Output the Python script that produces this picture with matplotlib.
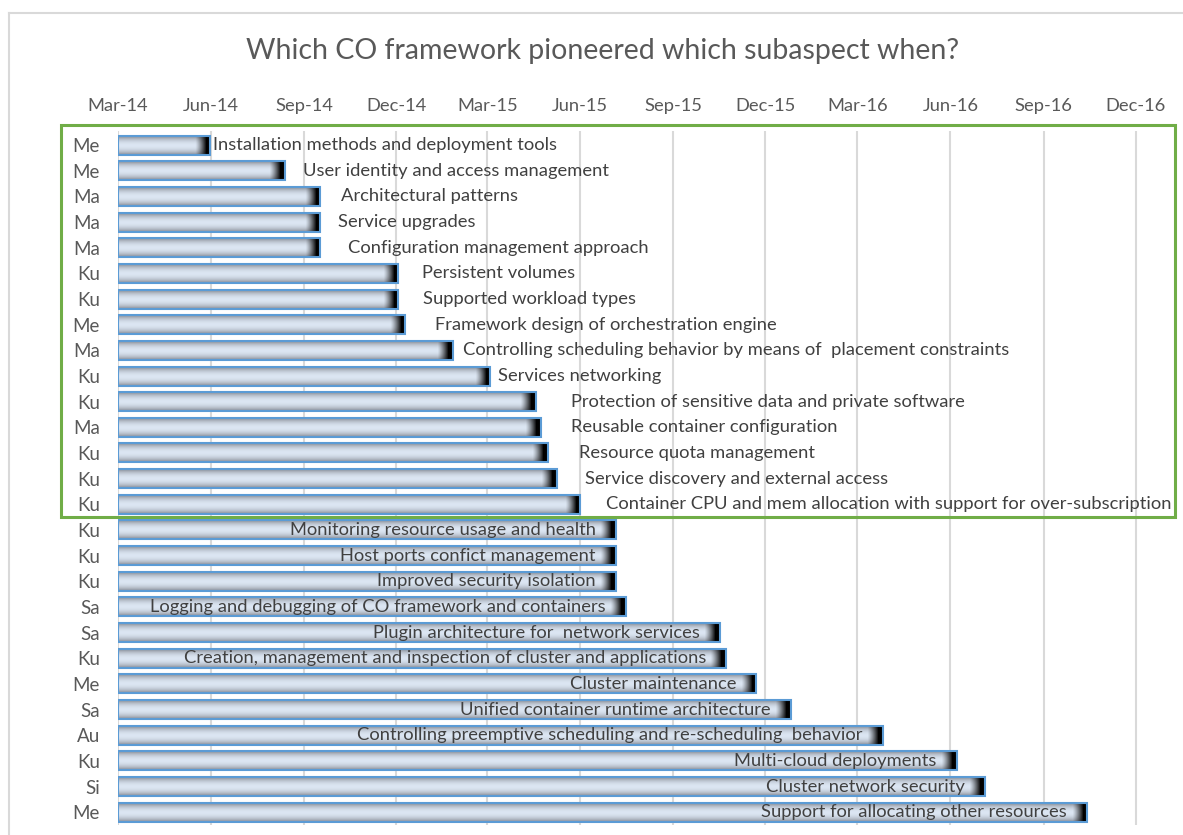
import matplotlib
matplotlib.use("Agg")
import matplotlib.pyplot as plt
import matplotlib.dates as mdates
from matplotlib.patches import Rectangle
from matplotlib.lines import Line2D
import numpy as np
import datetime as dt

# ---------------- data ----------------
frameworks = ["Me", "Me", "Ma", "Ma", "Ma", "Ku", "Ku", "Me", "Ma", "Ku", "Ku", "Ma", "Ku", "Ku",
              "Ku", "Ku", "Ku", "Ku", "Sa", "Sa", "Ku", "Me", "Sa", "Au", "Ku", "Si", "Me"]

subaspects = [
    "Installation methods and deployment tools",
    "User identity and access management",
    "Architectural patterns",
    "Service upgrades",
    "Configuration management approach",
    "Persistent volumes",
    "Supported workload types",
    "Framework design of orchestration engine",
    "Controlling scheduling behavior by means of  placement constraints",
    "Services networking",
    "Protection of sensitive data and private software",
    "Reusable container configuration",
    "Resource quota management",
    "Service discovery and external access",
    "Container CPU and mem allocation with support for over-subscription",
    "Monitoring resource usage and health",
    "Host ports confict management",
    "Improved security isolation",
    "Logging and debugging of CO framework and containers",
    "Plugin architecture for  network services",
    "Creation, management and inspection of cluster and applications",
    "Cluster maintenance",
    "Unified container runtime architecture",
    "Controlling preemptive scheduling and re-scheduling  behavior",
    "Multi-cloud deployments",
    "Cluster network security",
    "Support for allocating other resources",
]

start_date = "2014-03-01"
pioneer_dates = [
    "2014-05-31", "2014-08-13", "2014-09-17", "2014-09-17", "2014-09-17",
    "2014-12-03", "2014-12-03", "2014-12-10", "2015-01-26", "2015-03-04",
    "2015-04-18", "2015-04-23", "2015-04-30", "2015-05-09", "2015-06-01",
    "2015-07-06", "2015-07-06", "2015-07-06", "2015-07-16", "2015-10-17",
    "2015-10-23", "2015-11-22", "2015-12-26", "2016-03-26", "2016-06-07",
    "2016-07-05", "2016-10-14",
]

title = "Which CO framework pioneered which subaspect when?"

# ---------------- layout / style ----------------
W_PX, H_PX = 1183, 835
n_highlight = 15                      # rows inside the green box, labels outside bars
label_offset_px = [3, 18, 21, 18, 28, 24, 25, 30, 10, 8, 35, 30, 31, 28, 26]
inside_pad_px = 20
x_max = "2017-01-09"
FONT = ["Lato", "DejaVu Sans"]
LABEL_SIZE = 13.2

plt.rcParams["font.family"] = FONT

fig = plt.figure(figsize=(W_PX / 100, H_PX / 100), dpi=100)
ax_left, ax_right, ax_top, ax_bottom = 118, 1175, 131, 825
ax = fig.add_axes([ax_left / W_PX, 1 - ax_bottom / H_PX,
                   (ax_right - ax_left) / W_PX, (ax_bottom - ax_top) / H_PX])

x0 = mdates.date2num(dt.date.fromisoformat(start_date))
x1 = mdates.date2num(dt.date.fromisoformat(x_max))
px_per_day = (ax_right - ax_left) / (x1 - x0)
ends = [mdates.date2num(dt.date.fromisoformat(d)) for d in pioneer_dates]

bar_h = 0.74
light = np.array([0.86, 0.90, 0.95])
gray = np.array([0.55, 0.57, 0.61])


def bar_image(width_px, height_px=19):
    yy = np.linspace(-1, 1, height_px)
    t = np.abs(yy) ** 2.0
    col = light[None, :] * (1 - t[:, None]) + gray[None, :] * t[:, None]
    xx = np.arange(width_px)
    cap = 16.0
    d = np.clip((xx - (width_px - cap)) / (cap - 5), 0, 1) ** 1.3
    return col[:, None, :] * (1 - d)[None, :, None]


for i, e in enumerate(ends):
    wpx = max(int(round((e - x0) * px_per_day)), 4)
    ax.imshow(bar_image(wpx), extent=[x0, e, i + bar_h / 2, i - bar_h / 2],
              aspect="auto", interpolation="bilinear", zorder=2)
    ax.add_patch(Rectangle((x0, i - bar_h / 2), e - x0, bar_h, fill=False,
                           edgecolor="#5b9bd5", lw=1.5, zorder=3))
    if i < n_highlight:
        ax.annotate(subaspects[i], xy=(e, i), xytext=(label_offset_px[i] * 0.72, 0),
                    textcoords="offset points", ha="left", va="center",
                    fontsize=LABEL_SIZE, color="#404040", zorder=4)
    else:
        ax.annotate(subaspects[i], xy=(e, i), xytext=(-inside_pad_px * 0.72, 0),
                    textcoords="offset points", ha="right", va="center",
                    fontsize=LABEL_SIZE, color="#404040", zorder=4)

ax.set_xlim(x0, x1)
ax.set_ylim(len(ends) - 0.5, -0.55)
ax.set_yticks(range(len(frameworks)))
ax.set_yticklabels(frameworks)
ax.xaxis.tick_top()
ax.xaxis.set_major_locator(mdates.MonthLocator(bymonth=(3, 6, 9, 12)))
ax.xaxis.set_major_formatter(mdates.DateFormatter("%b-%y"))
ax.tick_params(axis="x", length=0, pad=12, labelsize=13.2, labelcolor="#595959")
ax.tick_params(axis="y", length=0, pad=13, labelsize=13.5, labelcolor="#595959")
ax.grid(axis="x", color="#d9d9d9", lw=1.5)
ax.set_axisbelow(True)
for s in ax.spines.values():
    s.set_visible(False)

fig.text(603 / W_PX, 1 - 51 / H_PX, title, ha="center", va="center",
         fontsize=20.5, color="#595959")

# chart-area frame (left and top visible)
fig.add_artist(Line2D([9 / W_PX, 9 / W_PX], [0, 1 - 13 / H_PX], color="#d9d9d9", lw=1.5))
fig.add_artist(Line2D([9 / W_PX, 1], [1 - 13 / H_PX, 1 - 13 / H_PX], color="#d9d9d9", lw=1.5))

# highlight box
fig.add_artist(Rectangle((61 / W_PX, 1 - 517 / H_PX), (1175 - 61) / W_PX, (517 - 125) / H_PX,
                         transform=fig.transFigure, fill=False, edgecolor="#70ad47", lw=2.2,
                         zorder=10))

fig.savefig("out.png", dpi=100)
